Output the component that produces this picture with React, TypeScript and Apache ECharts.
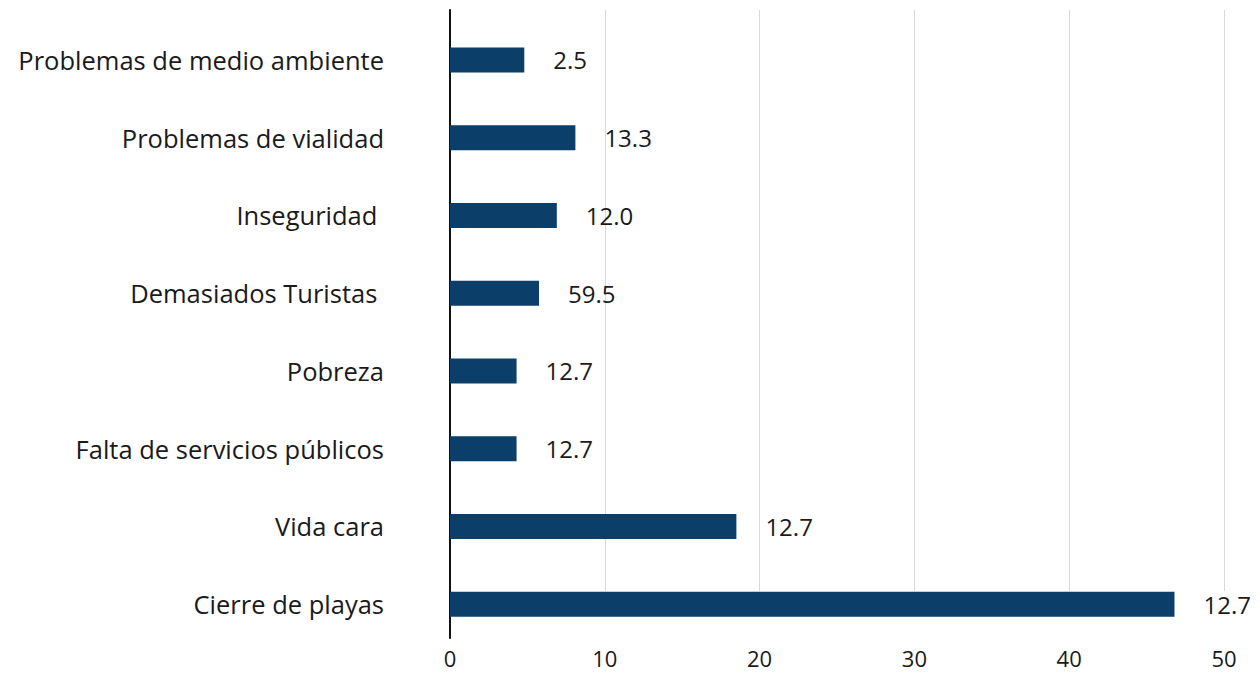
import React, { useEffect, useRef } from "react";
import * as echarts from "echarts";

const categories = [
  "Problemas de medio ambiente",
  "Problemas de vialidad",
  "Inseguridad ",
  "Demasiados Turistas ",
  "Pobreza",
  "Falta de servicios públicos",
  "Vida cara",
  "Cierre de playas",
];
const barValues = [4.8, 8.1, 6.9, 5.75, 4.3, 4.3, 18.5, 46.8];
const valueLabels = ["2.5", "13.3", "12.0", "59.5", "12.7", "12.7", "12.7", "12.7"];
const xTicks = { min: 0, max: 50, interval: 10 };

const FONT = "Open Sans";
const TEXT = "#1a1a1a";

export default function App() {
  const ref = useRef<HTMLDivElement>(null);
  useEffect(() => {
    if (!ref.current) return;
    const chart = echarts.init(ref.current, undefined, { renderer: "svg" });
    chart.setOption({
      animation: false,
      backgroundColor: "#ffffff",
      grid: [
        { left: 450, right: 36, top: 21, bottom: 31 },
        { left: 450, right: 36, top: 10, bottom: 83 },
        { left: 450, right: 36, top: 10, bottom: 36 },
      ],
      xAxis: [
        {
          gridIndex: 0,
          type: "value",
          min: xTicks.min,
          max: xTicks.max,
          interval: xTicks.interval,
          show: false,
        },
        {
          gridIndex: 1,
          type: "value",
          min: xTicks.min,
          max: xTicks.max,
          interval: xTicks.interval,
          axisLine: { show: false },
          axisTick: { show: false },
          axisLabel: { show: false },
          splitLine: { show: true, lineStyle: { color: "#d9d9d9", width: 1 } },
        },
        {
          gridIndex: 2,
          type: "value",
          min: xTicks.min,
          max: xTicks.max,
          interval: xTicks.interval,
          axisLine: { show: false },
          axisTick: { show: false },
          splitLine: { show: false },
          axisLabel: { color: TEXT, fontFamily: FONT, fontSize: 22, margin: 9, lineHeight: 22 },
        },
      ],
      yAxis: [
        {
          gridIndex: 0,
          type: "category",
          inverse: true,
          data: categories,
          axisLine: { show: false },
          axisTick: { show: false },
          axisLabel: { color: TEXT, fontFamily: FONT, fontSize: 25.5, margin: 66 },
        },
        {
          gridIndex: 1,
          type: "category",
          inverse: true,
          data: categories,
          show: false,
        },
        {
          gridIndex: 2,
          type: "category",
          inverse: true,
          data: categories,
          axisLine: { show: true, lineStyle: { color: "#111111", width: 2 } },
          axisTick: { show: false },
          axisLabel: { show: false },
        },
      ],
      series: [
        {
          type: "bar",
          xAxisIndex: 0,
          yAxisIndex: 0,
          data: barValues,
          barWidth: 25,
          itemStyle: { color: "#0b3e68" },
          label: {
            show: true,
            position: "right",
            distance: 29,
            color: TEXT,
            fontFamily: FONT,
            fontSize: 24,
            formatter: (p: any) => valueLabels[p.dataIndex],
          },
        },
      ],
    });
    return () => chart.dispose();
  }, []);
  return (
    <div
      ref={ref}
      style={{ position: "fixed", left: 0, top: 0, width: 1260, height: 674 }}
    />
  );
}
